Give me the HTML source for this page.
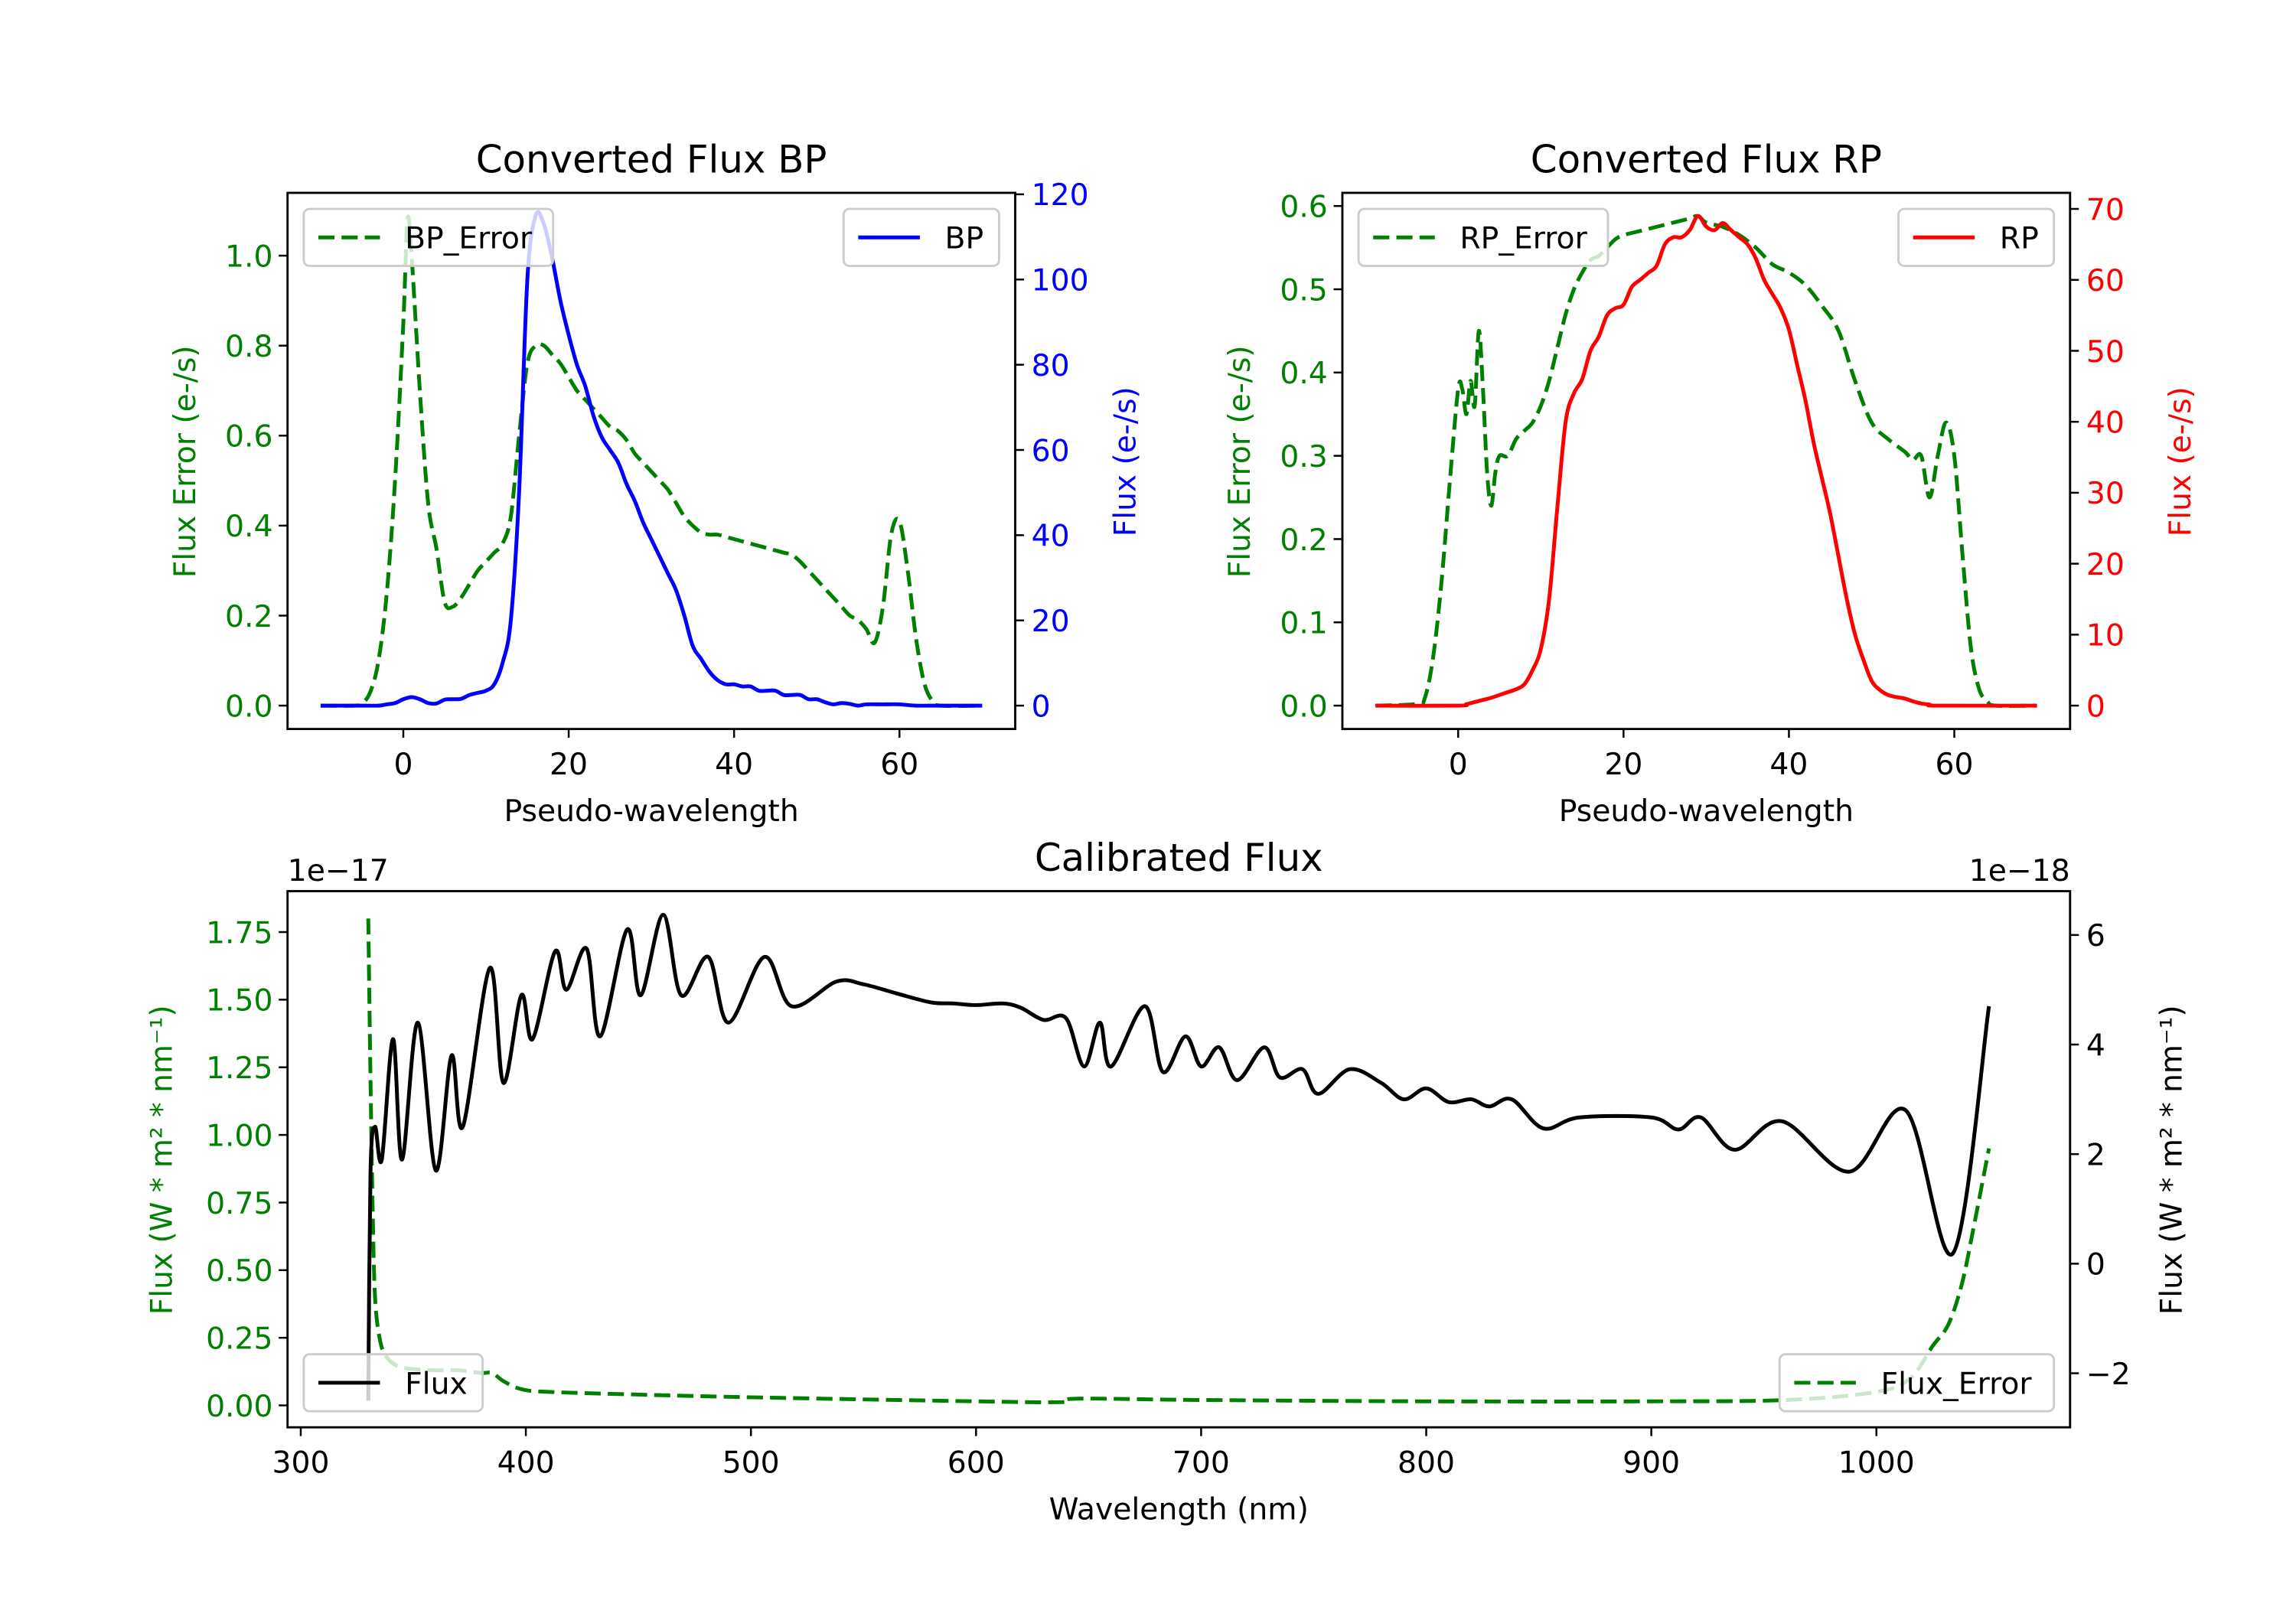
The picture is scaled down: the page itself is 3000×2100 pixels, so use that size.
<!DOCTYPE html>
<html><head><meta charset="utf-8"><style>
html,body{margin:0;padding:0;background:#fff;}
svg{display:block;}
text{font-family:"DejaVu Sans","Liberation Sans",sans-serif;}
</style></head><body>
<svg id="fig" width="3000" height="2100" viewBox="0 0 1565 1100" preserveAspectRatio="none" xmlns="http://www.w3.org/2000/svg">
<rect x="0" y="0" width="1565" height="1100" fill="#fff"/>
</svg>
<script>
// ---------- data ----------
const bpX = [-10,-5,-3,-2,-1,0,1,2,3,4,5,6,7,8,9,10,11,12,13,14,15,16,17,18,19,20,21,22,23,24,25,26,27,28,29,30,31,32,33,34,35,36,37,38,39,40,41,42,43,44,45,46,47,48,49,50,51,52,53,54,55,56,58,60,62,65,70];
const bpFlux = [0,0,0,0.3,0.6,1.5,2,1.5,0.6,0.5,1.4,1.5,1.6,2.5,3,3.5,5,10,20,50,100,115,113,105,95,87,80,75,68,63,60,57,52,48,43,39,35,31,27,21,14,11,8,6,5,5,4.5,4.5,3.5,3.5,3.5,2.5,2.5,2.5,1.5,1.5,0.8,0.3,0.6,0.4,0,0.3,0.3,0.3,0,0,0];
const bpErrX = [-10,-6,-5,-4,-3,-2,-1,0,0.5,1,2,3,4,5,6,7,8,9,10,11,12,13,14,15,16,17,18,19,20,21,22,23,24,25,26,27,28,29,30,31,32,33,34,35,36,37,38,39,40,42,44,46,47,48,49,50,51,52,53,54,55,56,57,58,59,60,61,62,63,64,65,70];
const bpErr = [0,0,0.005,0.03,0.1,0.25,0.5,0.85,1.08,1.0,0.7,0.45,0.35,0.23,0.22,0.24,0.27,0.3,0.32,0.34,0.36,0.42,0.6,0.76,0.8,0.8,0.78,0.76,0.73,0.7,0.68,0.66,0.64,0.62,0.61,0.59,0.56,0.54,0.52,0.5,0.48,0.45,0.42,0.4,0.385,0.38,0.38,0.375,0.37,0.36,0.35,0.34,0.335,0.32,0.3,0.28,0.26,0.24,0.22,0.2,0.19,0.17,0.14,0.22,0.38,0.41,0.3,0.15,0.05,0.01,0,0];
const rpX = [-10,0,1,2,3,4,5,6,7,8,9,10,11,12,13,14,15,16,17,18,19,20,21,22,23,24,25,26,27,28,29,30,31,32,33,34,35,36,37,38,39,40,41,42,43,44,45,46,47,48,49,50,51,52,53,54,55,56,57,58,70];
const rpFlux = [0,0,0.2,0.5,0.8,1.1,1.5,1.9,2.3,3,5,8,15,28,40,44,46,50,52,55,56,56.5,59,60,61,62,65,66,66,67,69,67.5,67,68,67,66,65,63,60,58,56,53,48,43,37,32,27,21,15,10,6.5,3.5,2.2,1.5,1.2,1.0,0.6,0.3,0.15,0,0];
const rpErrX = [-10,-5,-4,-3,-2,-1,0,0.5,1,1.5,2,2.5,3,3.5,4,4.5,5,6,7,8,9,10,11,12,13,14,15,16,17,18,19,20,22,24,26,28,29,30,32,34,36,38,40,42,44,46,48,50,52,54,55,56,57,58,59,60,61,62,63,64,65,70];
const rpErr = [0,0.002,0.01,0.06,0.15,0.27,0.38,0.38,0.35,0.39,0.36,0.45,0.38,0.28,0.24,0.28,0.3,0.3,0.32,0.33,0.34,0.36,0.39,0.43,0.47,0.5,0.52,0.535,0.54,0.55,0.56,0.565,0.57,0.575,0.58,0.585,0.588,0.58,0.575,0.565,0.55,0.53,0.52,0.505,0.48,0.45,0.39,0.34,0.32,0.305,0.295,0.3,0.25,0.3,0.34,0.3,0.18,0.07,0.02,0.005,0,0];
const calWl = [330,331,333,336,341,345,352,360,367,372,384,390,398,403,413,418,427,433,445,451,461,469,481,490,506,518,538,550,565,580,590,600,612,620,630,640,648,655,660,675,683,693,700,708,716,728,735,745,752,766,780,790,800,810,820,828,838,852,868,900,912,922,937,958,988,1013,1034,1050];
const calFlux = [-2.5,1.7,2.5,1.9,4.1,1.9,4.4,1.7,3.8,2.5,5.4,3.3,4.9,4.1,5.7,5.0,5.75,4.15,6.1,4.9,6.37,4.9,5.6,4.4,5.6,4.7,5.15,5.1,4.93,4.77,4.75,4.72,4.75,4.67,4.45,4.48,3.6,4.4,3.6,4.7,3.5,4.15,3.6,3.95,3.35,3.95,3.4,3.55,3.1,3.55,3.3,3.0,3.2,2.95,3.0,2.87,3.0,2.47,2.67,2.67,2.45,2.67,2.08,2.6,1.68,2.8,0.19,4.7];
const errWl = [330,331,332,333,335,338,345,360,370,380,385,390,398,410,450,500,600,638,645,700,800,900,960,1000,1015,1025,1032,1038,1043,1050];
const calErr = [1.8,1.2,0.7,0.4,0.25,0.18,0.14,0.13,0.13,0.12,0.12,0.09,0.06,0.05,0.04,0.03,0.015,0.012,0.025,0.02,0.015,0.015,0.02,0.05,0.1,0.22,0.3,0.45,0.65,0.95];
const pxTicks = [0,20,40,60];
const bpLeftTicks = ["0.0","0.2","0.4","0.6","0.8","1.0"];
const bpRightTicks = ["0","20","40","60","80","100","120"];
const rpLeftTicks = ["0.0","0.1","0.2","0.3","0.4","0.5","0.6"];
const rpRightTicks = ["0","10","20","30","40","50","60","70"];
const wlTicks = ["300","400","500","600","700","800","900","1000"];
const calLeftTicks = ["0.00","0.25","0.50","0.75","1.00","1.25","1.50","1.75"];
const calRightTicks = ["-2","0","2","4","6"];

// ---------- helpers ----------
const NS = "http://www.w3.org/2000/svg";
const fig = document.getElementById('fig');
function mk(tag, attrs, parent, txt){
  const e = document.createElementNS(NS, tag);
  for (const k in attrs) e.setAttribute(k, attrs[k]);
  if (txt !== undefined) e.textContent = txt;
  (parent || fig).appendChild(e);
  return e;
}
function lin(d0,d1,r0,r1){ return v => r0 + (v-d0)*(r1-r0)/(d1-d0); }
function smoothPath(xs, ys, sx, sy){
  const p = xs.map((x,i)=>[sx(x), sy(ys[i])]);
  let d = "M"+p[0][0].toFixed(2)+","+p[0][1].toFixed(2);
  for (let i=0;i<p.length-1;i++){
    const p0=p[Math.max(i-1,0)], p1=p[i], p2=p[i+1], p3=p[Math.min(i+2,p.length-1)];
    const c1x=p1[0]+(p2[0]-p0[0])/6, c1y=p1[1]+(p2[1]-p0[1])/6;
    const c2x=p2[0]-(p3[0]-p1[0])/6, c2y=p2[1]-(p3[1]-p1[1])/6;
    d += "C"+c1x.toFixed(2)+","+c1y.toFixed(2)+" "+c2x.toFixed(2)+","+c2y.toFixed(2)+" "+p2[0].toFixed(2)+","+p2[1].toFixed(2);
  }
  return d;
}
const FS = 20.5;
const TFS = 26;
function axesFrame(g, L, T, R, B){
  mk('rect',{x:L,y:T,width:R-L,height:B-T,fill:'none',stroke:'#000','stroke-width':1.5},g);
}
function legend(g, x, y, w, label, color, dashed){
  const box = mk('rect',{x:x,y:y,width:w,height:39,rx:4,fill:'#fff','fill-opacity':0.8,stroke:'#ccc','stroke-width':1.5},g);
  
  
  const ln = mk('line',{x1:x+10,y1:y+19.5,x2:x+52,y2:y+19.5,stroke:color,'stroke-width':2.6},g);
  if (dashed) ln.setAttribute('stroke-dasharray','11 4.8');
  
  
  const t = mk('text',{x:x+69,y:y+27,'font-size':FS,fill:'#000'},g,label);
  
  
}

function pseudoPanel(opt){
  const g = mk('g',{});
  
  
  const L=opt.L, R=opt.L+496, T=132, B=499;
  const sx = lin(-14,74,L,R);
  const syL = lin(0,opt.leftMax,483,opt.leftTop);
  const syR = lin(0,opt.rightMax,483,opt.rightTop);
  const e = mk('path',{d:smoothPath(opt.errX,opt.err,sx,syL),fill:'none',stroke:'#008000','stroke-width':2.6,'stroke-dasharray':'11 4.8'},g);
  
  
  const f = mk('path',{d:smoothPath(opt.fx,opt.flux,sx,syR),fill:'none',stroke:opt.color,'stroke-width':2.6},g);
  
  
  axesFrame(g,L,T,R,B);
  pxTicks.forEach(v=>{
    const x=sx(v);
    mk('line',{x1:x,y1:B,x2:x,y2:B+6,stroke:'#000','stroke-width':1.3},g);
    const t=mk('text',{x:x,y:B+31,'font-size':FS,'text-anchor':'middle'},g,String(v));
    
    
  });
  opt.leftTicks.forEach(s=>{
    const y=syL(parseFloat(s));
    mk('line',{x1:L-6,y1:y,x2:L,y2:y,stroke:'#000','stroke-width':1.3},g);
    const t=mk('text',{x:L-10,y:y+7.5,'font-size':FS,'text-anchor':'end',fill:'#008000'},g,s);
    
    
  });
  opt.rightTicks.forEach(s=>{
    const y=syR(parseFloat(s));
    mk('line',{x1:R,y1:y,x2:R+6,y2:y,stroke:'#000','stroke-width':1.3},g);
    const t=mk('text',{x:R+11,y:y+7.5,'font-size':FS,fill:opt.color},g,s);
    
    
  });
  const xt=mk('text',{x:(L+R)/2,y:562,'font-size':FS,'text-anchor':'middle'},g,'Pseudo-wavelength');
   
  const yl=mk('text',{x:0,y:0,'font-size':FS,'text-anchor':'middle',fill:'#008000',transform:'translate('+(L-63)+',316) rotate(-90)'},g,'Flux Error (e-/s)');
   
  const yr=mk('text',{x:0,y:0,'font-size':FS,'text-anchor':'middle',fill:opt.color,transform:'translate('+(R+82)+',316) rotate(-90)'},g,'Flux (e-/s)');
   
  const ti=mk('text',{x:(L+R)/2,y:118,'font-size':TFS,'text-anchor':'middle'},g,opt.title);
   
  legend(g,L+11,143,170,opt.errLabel,'#008000',true);
  legend(g,R-117,143,106,opt.fluxLabel,opt.color,false);
}
pseudoPanel({name:'bp-panel',L:196,leftMax:1.0,leftTop:175,rightMax:120,rightTop:133,errX:bpErrX,err:bpErr,fx:bpX,flux:bpFlux,color:'#0000ff',errName:'bp-error-line',fluxName:'bp-flux-line',leftTicks:bpLeftTicks,rightTicks:bpRightTicks,title:'Converted Flux BP',errLabel:'BP_Error',fluxLabel:'BP'});
pseudoPanel({name:'rp-panel',L:915,leftMax:0.6,leftTop:141,rightMax:70,rightTop:143,errX:rpErrX,err:rpErr,fx:rpX,flux:rpFlux,color:'#ff0000',errName:'rp-error-line',fluxName:'rp-flux-line',leftTicks:rpLeftTicks,rightTicks:rpRightTicks,title:'Converted Flux RP',errLabel:'RP_Error',fluxLabel:'RP'});

// ---------- calibrated panel ----------
(function(){
  const g = mk('g',{});
  
  
  const L=196,R=1411,T=610,B=977;
  const sx = lin(300,1000,205,1279);
  const syL = lin(0,1.75,962,638);
  const syR = lin(0,6,865,640);
  const e = mk('path',{d:smoothPath(errWl,calErr,sx,syL),fill:'none',stroke:'#008000','stroke-width':2.6,'stroke-dasharray':'11 4.8'},g);
  
  
  const f = mk('path',{d:smoothPath(calWl,calFlux,sx,syR),fill:'none',stroke:'#000','stroke-width':2.6},g);
  
  
  axesFrame(g,L,T,R,B);
  wlTicks.forEach(s=>{
    const x=sx(parseFloat(s));
    mk('line',{x1:x,y1:B,x2:x,y2:B+6,stroke:'#000','stroke-width':1.3},g);
    const t=mk('text',{x:x,y:B+31,'font-size':FS,'text-anchor':'middle'},g,s);
     
  });
  calLeftTicks.forEach(s=>{
    const y=syL(parseFloat(s));
    mk('line',{x1:L-6,y1:y,x2:L,y2:y,stroke:'#000','stroke-width':1.3},g);
    const t=mk('text',{x:L-10,y:y+7.5,'font-size':FS,'text-anchor':'end',fill:'#008000'},g,s);
     
  });
  calRightTicks.forEach(s=>{
    const y=syR(parseFloat(s));
    mk('line',{x1:R,y1:y,x2:R+6,y2:y,stroke:'#000','stroke-width':1.3},g);
    const t=mk('text',{x:R+11,y:y+7.5,'font-size':FS},g,s.replace('-','\u2212'));
     
  });
  const xt=mk('text',{x:(L+R)/2,y:1040,'font-size':FS,'text-anchor':'middle'},g,'Wavelength (nm)');
   
  const yl=mk('text',{x:0,y:0,'font-size':FS,'text-anchor':'middle',fill:'#008000',transform:'translate(117,794) rotate(-90)'},g,'Flux (W * m\u00B2 * nm\u207B\u00B9)');
   
  const yr=mk('text',{x:0,y:0,'font-size':FS,'text-anchor':'middle',transform:'translate(1487,794) rotate(-90)'},g,'Flux (W * m\u00B2 * nm\u207B\u00B9)');
   
  const ti=mk('text',{x:(L+R)/2,y:596,'font-size':TFS,'text-anchor':'middle'},g,'Calibrated Flux');
   
  const o1=mk('text',{x:L,y:603,'font-size':FS},g,'1e\u221217');
   
  const o2=mk('text',{x:R,y:603,'font-size':FS,'text-anchor':'end'},g,'1e\u221218');
   
  legend(g,207,927,122,'Flux','#000',false);
  legend(g,1213,927,187,'Flux_Error','#008000',true);
})();
</script>
</body></html>
